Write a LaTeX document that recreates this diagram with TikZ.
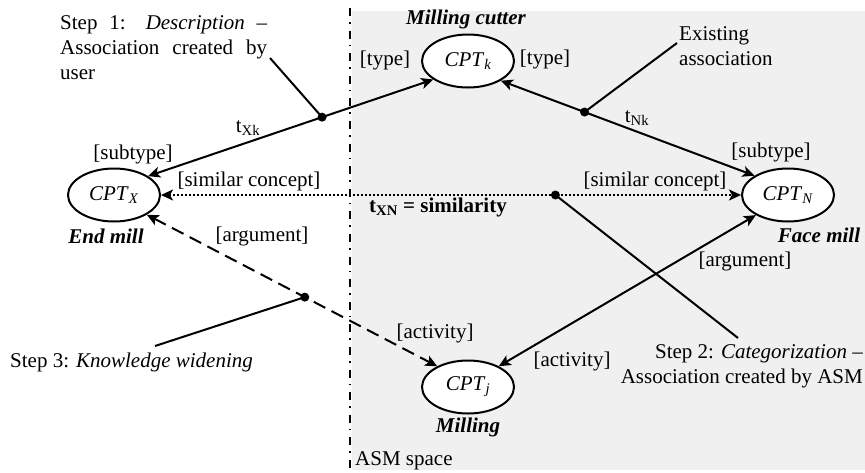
\documentclass[tikz,border=0pt]{standalone}
\usepackage{fontspec}
\setmainfont{Liberation Serif}
\usetikzlibrary{arrows.meta,shapes.geometric}
\definecolor{asmgray}{RGB}{240,240,240}
\tikzset{
  every node/.style={font=\fontsize{21}{25}\selectfont, inner sep=0pt},
  cpt/.style={ellipse, draw, line width=2pt, fill=white, minimum width=92pt, minimum height=53pt},
  tip/.style={-{Stealth[length=12pt,width=11pt,inset=3pt]}},
  link/.style={line width=2pt, {Stealth[length=12pt,width=11pt,inset=3pt]}-{Stealth[length=12pt,width=11pt,inset=3pt]}},
  callout/.style={line width=2pt},
  dotmark/.style={circle, fill=black, minimum size=9pt, inner sep=0pt},
  lbl/.style={font=\fontsize{21}{25}\selectfont},
  named/.style={font=\fontsize{21}{25}\selectfont\bfseries\itshape}
}
\begin{document}
\begin{tikzpicture}[x=1pt,y=-1pt]
\useasboundingbox (0,0) rectangle (865,472);
% ASM space
\fill[asmgray] (352,11) rectangle (865,470);
\draw[line width=1.6pt, dash pattern=on 8pt off 6pt on 1.6pt off 7pt] (350,8) -- (350,472);
\node[anchor=west] (asm) at (355,461) {ASM space};

% concepts
\node[cpt] (X) at (114,195) {\textit{CPT}\textsubscript{\textit{X}}};
\node[cpt] (K) at (468,61) {\textit{CPT}\textsubscript{\textit{k}}};
\node[cpt] (N) at (788,195) {\textit{CPT}\textsubscript{\textit{N}}};
\node[cpt] (J) at (468,387) {\textit{CPT}\textsubscript{\textit{j}}};

\node[named] (nX) at (106,236) {End mill};
\node[named] (nK) at (466,19) {Milling cutter};
\node[named] (nN) at (819,235) {Face mill};
\node[named] (nJ) at (468,427) {Milling};

% associations
\draw[link] (X.29) -- coordinate[pos=0.61] (d1) (K.208);
\draw[link] (K.329) -- coordinate[pos=0.33] (d2) (N.150);
\draw[link, dash pattern=on 2pt off 2pt] (X.east) -- coordinate[pos=0.68] (d3) (N.west);
\draw[link] (N.212) -- (J.34);
\draw[link, dash pattern=on 13pt off 7pt] (X.329) -- coordinate[pos=0.544] (d4) (J.146);

% role labels
\node[lbl] (l1) at (133,154) {[subtype]};
\node[lbl] (l2) at (385,60) {[type]};
\node[lbl] (l3) at (545,59) {[type]};
\node[lbl] (l4) at (771,152) {[subtype]};
\node[lbl] (l5) at (249,181) {[similar concept]};
\node[lbl] (l6) at (655,181) {[similar concept]};
\node[lbl] (l7) at (262,236) {[argument]};
\node[lbl] (l8) at (745,261) {[argument]};
\node[lbl] (l9) at (435,333) {[activity]};
\node[lbl] (l10) at (572,361) {[activity]};
\node[lbl] (t1) at (248,128) {t\textsubscript{Xk}};
\node[lbl] (t2) at (637,118) {t\textsubscript{Nk}};
\node[lbl] (t3) at (438,207) {\textbf{t\textsubscript{XN} = similarity}};

% callouts
\coordinate (c1) at (270,58);
\coordinate (c2) at (677,43);
\coordinate (c3) at (738,338);
\coordinate (c4) at (155,346);
\draw[callout] (c1) -- (d1);
\draw[callout] (c2) -- (d2);
\draw[callout] (c3) -- (d3);
\draw[callout] (c4) -- (d4);
\foreach \d in {d1,d2,d3,d4} \node[dotmark] at (\d) {};

\node[anchor=west, align=left] (s1) at (60,48) {\makebox[207pt][s]{Step 1: \textit{Description} –}\\\makebox[207pt][s]{Association created by}\\user};
\node[anchor=west, align=left] (ex) at (679,46) {Existing\\association};
\node[anchor=east, align=right] (s2) at (863,366) {Step 2: \textit{Categorization} –\\Association created by ASM};
\node[anchor=west] (s3) at (10,362) {Step 3: \textit{Knowledge widening}};
\end{tikzpicture}
\end{document}
